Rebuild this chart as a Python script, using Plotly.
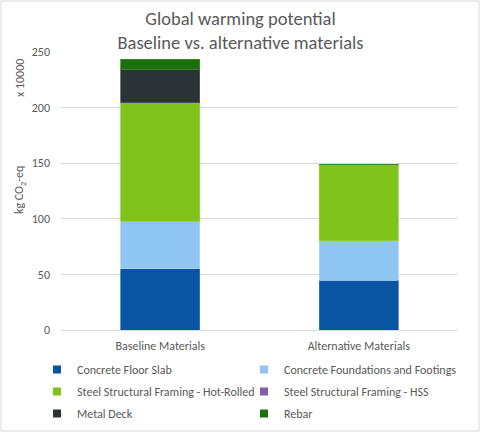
import plotly.graph_objects as go

# Data (kg CO2-eq, x 10000)
materials = ['Baseline Materials', 'Alternative Materials']
series_names = ['Concrete Floor Slab', 'Concrete Foundations and Footings',
                'Steel Structural Framing - Hot-Rolled', 'Steel Structural Framing - HSS',
                'Metal Deck', 'Rebar']
floor_slab = [55.2, 44.7]
foundations = [42.7, 35.6]
hot_rolled = [106.6, 68.4]
hss = [0.0, 0.0]
metal_deck = [30.0, 0.5]
rebar = [8.9, 0.0]
y_ticks = [0, 50, 100, 150, 200, 250]

colors = ['#0A55A3', '#8FC5F2', '#80C31C', '#7F5FA8', '#2B3337', '#1A700B']
edge = ['#3C77B8', '#A9D3F5', '#96CE45', '#9A80BA', '#55595C', '#3F8A33']
all_series = [floor_slab, foundations, hot_rolled, hss, metal_deck, rebar]

FONT = 'Carlito, Calibri, Lato, sans-serif'
GREY = '#595959'

fig = go.Figure()
for i, (name, vals, c, e) in enumerate(zip(series_names, all_series, colors, edge)):
    fig.add_trace(go.Bar(x=materials, y=vals, name=name, showlegend=False,
                         legendgroup=name,
                         marker=dict(color=c, line=dict(color=e, width=0.8))))
    # legend-only entry with a small square key, two columns (even left, odd right)
    fig.add_trace(go.Scatter(x=[None], y=[None], mode='markers', name=name,
                             legendgroup=name,
                             legend='legend' if i % 2 == 0 else 'legend2',
                             marker=dict(symbol='square', size=8, color=c)))

W, H = 481, 433
L, R, T, B = 61, 23, 52, 103
pw, ph = W - L - R, H - T - B

leg_style = dict(orientation='v', xref='container', yref='container',
                 xanchor='left', y=1 - 355 / H, yanchor='top',
                 traceorder='grouped', tracegroupgap=3, itemwidth=30,
                 font=dict(size=12, color=GREY, family=FONT),
                 bgcolor='rgba(0,0,0,0)')

fig.update_layout(
    width=W, height=H, barmode='stack', bargap=0.6,
    margin=dict(l=L, r=R, t=T, b=B, autoexpand=False),
    paper_bgcolor='white', plot_bgcolor='white',
    font=dict(family=FONT, color=GREY, size=12),
    title=dict(text='Global warming potential<br>Baseline vs. alternative materials',
               x=0.5, xanchor='center', yref='container', y=1 - 25 / H, yanchor='middle',
               font=dict(size=18.5, color=GREY, family=FONT)),
    legend=dict(x=37 / W, **leg_style),
    legend2=dict(x=244 / W, **leg_style),
    showlegend=True,
)
fig.update_xaxes(showgrid=False, showline=False, ticks='', zeroline=False,
                 ticklabelstandoff=7, tickfont=dict(size=12, color=GREY))
fig.update_yaxes(range=[0, 250], tickvals=y_ticks, showgrid=True, gridcolor='#D9D9D9',
                 gridwidth=1, zeroline=True, zerolinecolor='#D9D9D9', zerolinewidth=1,
                 showline=False, ticks='', ticklabelstandoff=10,
                 tickfont=dict(size=12, color=GREY))

# axis title and unit multiplier
fig.add_annotation(text='kg CO<sub>2</sub>-eq', textangle=-90, xref='paper', yref='paper',
                   x=-(L - 20) / pw, y=1 - (190 - T) / ph, xanchor='center', yanchor='middle',
                   showarrow=False, font=dict(size=12, color=GREY, family=FONT))
fig.add_annotation(text='x 10000', textangle=-90, xref='paper', yref='paper',
                   x=-(L - 20) / pw, y=1 - (78 - T) / ph, xanchor='center', yanchor='middle',
                   showarrow=False, font=dict(size=12, color=GREY, family=FONT))

# chart area border
fig.add_shape(type='rect', xref='paper', yref='paper',
              x0=-(L - 1) / pw, x1=1 + (R - 2) / pw, y0=-(B - 2) / ph, y1=1 + (T - 1) / ph,
              line=dict(color='#D9D9D9', width=1), fillcolor='rgba(0,0,0,0)', layer='below')

# drop the default page margin so the figure sits at the window's corner
fig.write_html('out.html', config={'displayModeBar': False},
               post_script="document.body.style.margin='0';")
